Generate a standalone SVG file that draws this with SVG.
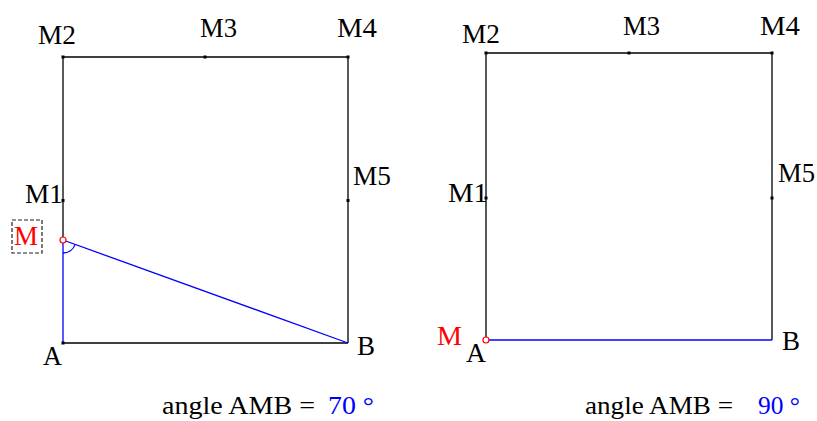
<svg xmlns="http://www.w3.org/2000/svg" width="817" height="421" viewBox="0 0 817 421">
<style>
.lbl{font-family:"Liberation Serif","Times New Roman",serif;font-size:28px;fill:#000}
.red{fill:#ff0000}
.cap{font-family:"Liberation Serif","Times New Roman",serif;font-size:26px;fill:#000}
.val{font-family:"Liberation Serif","Times New Roman",serif;font-size:26px;fill:#0000ff}
.blk{stroke:#000;stroke-width:1.3;fill:none}
.blu{stroke:#0000ff;stroke-width:1.3;fill:none}
.dot{fill:#000}
</style>
<rect width="817" height="421" fill="#fff"/>
<g id="connectors">
<line class="blk" x1="63" y1="57" x2="348" y2="57"/>
<line class="blk" x1="348" y1="57" x2="348" y2="343"/>
<line class="blk" x1="63" y1="343" x2="348" y2="343"/>
<line class="blk" x1="63" y1="57" x2="63" y2="240"/>
<line class="blu" x1="63" y1="240" x2="63" y2="343"/>
<line class="blu" x1="63" y1="240" x2="348" y2="343"/>
<path class="blu" d="M63 253 A13 13 0 0 0 75.2 244.4"/>
<line class="blk" x1="486" y1="53" x2="772" y2="53"/>
<line class="blk" x1="772" y1="53" x2="772" y2="340"/>
<line class="blk" x1="486" y1="53" x2="486" y2="340"/>
<line class="blu" x1="486" y1="340" x2="772" y2="340"/>
</g>
<g id="left-M2"><rect class="dot" x="61.5" y="55.5" width="3" height="3"/><text class="lbl" x="38" y="44" textLength="38" lengthAdjust="spacingAndGlyphs">M2</text></g>
<g id="left-M3"><rect class="dot" x="203.5" y="55.5" width="3" height="3"/><text class="lbl" x="200" y="37" textLength="37" lengthAdjust="spacingAndGlyphs">M3</text></g>
<g id="left-M4"><rect class="dot" x="346.5" y="55.5" width="3" height="3"/><text class="lbl" x="337" y="37" textLength="40" lengthAdjust="spacingAndGlyphs">M4</text></g>
<g id="left-M5"><rect class="dot" x="346.5" y="199" width="3" height="3"/><text class="lbl" x="353" y="185" textLength="38" lengthAdjust="spacingAndGlyphs">M5</text></g>
<g id="left-M1"><rect class="dot" x="61.5" y="199" width="3" height="3"/><text class="lbl" x="25" y="203" textLength="38" lengthAdjust="spacingAndGlyphs">M1</text></g>
<g id="left-M"><circle cx="63" cy="240" r="3" fill="#fff" stroke="#ff0000" stroke-width="1.2"/><rect x="12" y="220" width="30" height="33" fill="none" stroke="#222" stroke-width="1.2" stroke-dasharray="4,2"/><text class="lbl red" x="14" y="245" textLength="24" lengthAdjust="spacingAndGlyphs">M</text></g>
<g id="left-A"><rect class="dot" x="61.5" y="341.5" width="3" height="3"/><text class="lbl" x="43" y="365" textLength="19" lengthAdjust="spacingAndGlyphs">A</text></g>
<g id="left-B"><text class="lbl" x="357" y="355" textLength="18" lengthAdjust="spacingAndGlyphs">B</text></g>
<g id="left-angle"><text class="cap" x="162" y="414" textLength="153" lengthAdjust="spacingAndGlyphs">angle AMB =</text><text class="val" x="328" y="414" textLength="46" lengthAdjust="spacingAndGlyphs">70 °</text></g>
<g id="right-M2"><rect class="dot" x="484.5" y="51.5" width="3" height="3"/><text class="lbl" x="462" y="43" textLength="38" lengthAdjust="spacingAndGlyphs">M2</text></g>
<g id="right-M3"><rect class="dot" x="627.5" y="51.5" width="3" height="3"/><text class="lbl" x="623" y="35" textLength="37" lengthAdjust="spacingAndGlyphs">M3</text></g>
<g id="right-M4"><rect class="dot" x="770.5" y="51.5" width="3" height="3"/><text class="lbl" x="760" y="35" textLength="40" lengthAdjust="spacingAndGlyphs">M4</text></g>
<g id="right-M5"><rect class="dot" x="770.5" y="196.5" width="3" height="3"/><text class="lbl" x="778" y="182" textLength="37" lengthAdjust="spacingAndGlyphs">M5</text></g>
<g id="right-M1"><rect class="dot" x="484.5" y="196.5" width="3" height="3"/><text class="lbl" x="448" y="202" textLength="40" lengthAdjust="spacingAndGlyphs">M1</text></g>
<g id="right-M"><circle cx="486" cy="340" r="3" fill="#fff" stroke="#ff0000" stroke-width="1.2"/><text class="lbl red" x="437" y="345" textLength="25" lengthAdjust="spacingAndGlyphs">M</text></g>
<g id="right-A"><text class="lbl" x="466" y="362" textLength="20" lengthAdjust="spacingAndGlyphs">A</text></g>
<g id="right-B"><text class="lbl" x="782" y="350" textLength="18" lengthAdjust="spacingAndGlyphs">B</text></g>
<g id="right-angle"><text class="cap" x="585" y="414" textLength="148" lengthAdjust="spacingAndGlyphs">angle AMB =</text><text class="val" x="758" y="414" textLength="42" lengthAdjust="spacingAndGlyphs">90 °</text></g>
</svg>
